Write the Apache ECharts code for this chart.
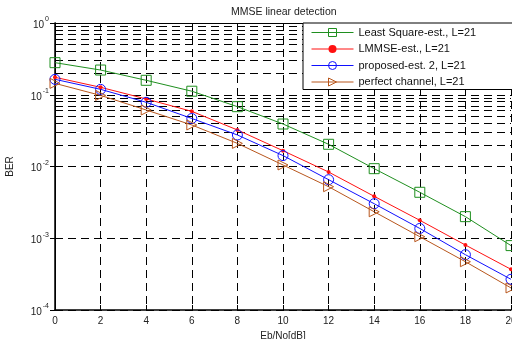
<!DOCTYPE html>
<html><head><meta charset="utf-8">
<script src="https://cdn.jsdelivr.net/npm/echarts@6/dist/echarts.min.js"></script>
<style>html,body{margin:0;padding:0;background:#fff}#c{width:512px;height:339px}</style>
</head><body><div id="c"></div>
<script>
var snr = [0, 2, 4, 6, 8, 10, 12, 14, 16, 18, 20];
var lsEst = [0.28, 0.221, 0.159, 0.112, 0.0682, 0.0391, 0.0204, 0.00933, 0.00437, 0.0020, 0.00079];
var lmmseEst = [0.175, 0.127, 0.0873, 0.0587, 0.0323, 0.0166, 0.00838, 0.00384, 0.00178, 0.000805, 0.000369];
var proposedEst = [0.164, 0.119, 0.0785, 0.0467, 0.0275, 0.0142, 0.00655, 0.00303, 0.00137, 0.00059, 0.000268];
var perfectCh = [0.144, 0.098, 0.0613, 0.0379, 0.021, 0.0105, 0.00523, 0.00234, 0.00105, 0.000471, 0.000203];
var seriesNames = ['Least Square-est., L=21', 'LMMSE-est., L=21', 'proposed-est. 2, L=21', 'perfect channel, L=21'];
var minorGrid = [];
[-4, -3, -2, -1].forEach(function (e) {
  for (var k = 2; k <= 9; k++) minorGrid.push(k * Math.pow(10, e));
});

var font = 'Liberation Sans, Arial, sans-serif';
function pairs(arr) { return snr.map(function (x, i) { return [x, arr[i]]; }); }
var dash = [8, 5];
var clear = 'rgba(255,255,255,0)';
var chart = echarts.init(document.getElementById('c'), null, { renderer: 'canvas' });
chart.setOption({
  animation: false,
  backgroundColor: '#fff',
  title: {
    text: 'MMSE linear detection', left: 226, top: 2,
    textStyle: { fontFamily: font, fontSize: 10.5, fontWeight: 'normal', color: '#222' }
  },
  legend: {
    orient: 'vertical', left: 303, top: 23, z: 20,
    itemWidth: 42, itemHeight: 10, itemGap: 5.5,
    padding: [4, 50, 2, 8],
    backgroundColor: '#fff', borderColor: '#000', borderWidth: 1, borderRadius: 0,
    lineStyle: { width: 1 },
    itemStyle: { borderWidth: 1 },
    textStyle: { fontFamily: font, fontSize: 11, color: '#111' },
    data: seriesNames
  },
  grid: { left: 55, right: 1, top: 23, bottom: 29, containLabel: false, outerBoundsMode: 'none' },
  xAxis: [{
    type: 'value', min: 0, max: 20, interval: 2,
    name: 'Eb/No[dB]', nameLocation: 'middle', nameGap: 18,
    nameTextStyle: { fontFamily: font, fontSize: 10, color: '#222' },
    axisLine: { lineStyle: { color: '#000', width: 1.5 } },
    axisTick: { inside: true, length: 5, lineStyle: { color: '#000' } },
    axisLabel: { fontFamily: font, fontSize: 10, color: '#222', margin: 6 },
    splitLine: { show: true, lineStyle: { color: '#000', type: dash, width: 1 } }
  }, {
    type: 'value', min: 0, max: 20, interval: 2, position: 'top',
    axisLine: { show: true, lineStyle: { color: '#000', width: 1 } },
    axisTick: { inside: true, length: 5, lineStyle: { color: '#000' } },
    axisLabel: { show: false }, splitLine: { show: false }
  }],
  yAxis: [{
    type: 'log', logBase: 10, min: 1e-4, max: 1,
    name: 'BER', nameLocation: 'middle', nameGap: 40,
    nameTextStyle: { fontFamily: font, fontSize: 10, color: '#222' },
    axisLine: { show: true, lineStyle: { color: '#000', width: 1.5 } },
    axisTick: { inside: true, length: 5, lineStyle: { color: '#000' } },
    axisLabel: {
      fontFamily: font, fontSize: 10, color: '#222', margin: 6,
      formatter: function (v) { return '{b|10}{s|' + Math.round(Math.log10(v)) + '}'; },
      rich: {
        b: { fontFamily: font, fontSize: 10, color: '#222', padding: [4, 0, 0, 0] },
        s: { fontFamily: font, fontSize: 7, color: '#222', verticalAlign: 'top', padding: [0, 0, 6, 1] }
      }
    },
    splitLine: { show: true, lineStyle: { color: '#000', type: dash, width: 1 } }
  }, {
    type: 'log', logBase: 10, min: 1e-4, max: 1, position: 'right',
    axisLine: { show: true, lineStyle: { color: '#000', width: 1 } },
    axisTick: { inside: true, length: 5, lineStyle: { color: '#000' } },
    axisLabel: { show: false }, splitLine: { show: false }
  }],
  series: [{
    name: seriesNames[0], type: 'line', data: pairs(lsEst),
    symbol: 'rect', symbolSize: 10,
    lineStyle: { color: '#1f8f1f', width: 1 },
    itemStyle: { color: clear, borderColor: '#1f8f1f', borderWidth: 1 },
    markLine: {
      silent: true, symbol: 'none', label: { show: false }, z: 1,
      lineStyle: { color: '#000', type: dash, width: 1 },
      data: minorGrid.map(function (v) { return { yAxis: v }; })
    }
  }, {
    name: seriesNames[1], type: 'line', data: pairs(lmmseEst),
    symbol: 'circle', symbolSize: 4,
    lineStyle: { color: '#ff1010', width: 1 }, itemStyle: { color: '#ff1010' }
  }, {
    name: seriesNames[2], type: 'line', data: pairs(proposedEst),
    symbol: 'circle', symbolSize: 10,
    lineStyle: { color: '#1010ff', width: 1 },
    itemStyle: { color: clear, borderColor: '#1010ff', borderWidth: 1 }
  }, {
    name: seriesNames[3], type: 'line', data: pairs(perfectCh),
    symbol: 'triangle', symbolSize: 10, symbolRotate: -90,
    lineStyle: { color: '#b8561c', width: 1 },
    itemStyle: { color: clear, borderColor: '#b8561c', borderWidth: 1 }
  }]
});
</script></body></html>
